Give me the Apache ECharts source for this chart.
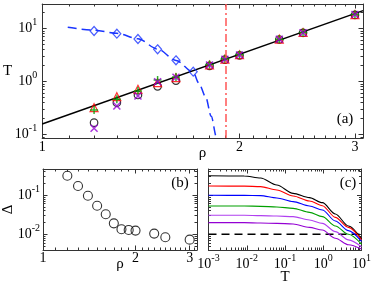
<!DOCTYPE html>
<html><head><meta charset="utf-8">
<script src="https://cdn.jsdelivr.net/npm/echarts@6/dist/echarts.min.js"></script>
<style>html,body{margin:0;padding:0;background:#fff}#c{width:374px;height:286px}</style>
</head><body><div id="c"></div>
<script>
// ---------- Panel (a) ----------
const rhoA      = [1.2, 1.3, 1.4, 1.5, 1.6, 1.8, 1.9, 2.0, 2.3, 2.5, 3.0];
const tCircle   = [0.167, 0.398, 0.556, 0.811, 1.04, 1.97, 2.58, 3.10, 6.20, 8.30, 18.0];
const tTriangle = [0.321, 0.517, 0.713, 0.949, 1.18, 2.05, 2.65, 3.20, 6.30, 8.40, 18.2];
const tPlus     = [0.290, 0.461, 0.662, 1.07, 1.22, 2.10, 2.68, 3.20, 6.30, 8.40, 18.4];
const tCross    = [0.131, 0.345, 0.533, 0.99, 1.20, 2.05, 2.62, 3.16, 6.25, 8.33, 18.3];
const rhoDiamond = [1.2, 1.3, 1.4, 1.5, 1.6, 1.7];
const tDiamond   = [8.97, 7.98, 6.34, 4.05, 2.51, 1.53];
const rhoFit = [1.094, 1.2, 1.3, 1.4, 1.5, 1.6, 1.7, 1.734, 1.775, 1.811, 1.844, 1.86];
const tFit   = [10.5, 9.3, 8.1, 6.4, 4.1, 2.5, 1.5, 0.93, 0.52, 0.22, 0.09, 0.065];
const rhoLine = [1.0, 3.087];
const tLine   = [0.158, 21.7];
const rhoMark = 1.9;
const aXTicks = [1, 2, 3];
const aYTicks = [0.1, 1, 10];

// ---------- Panel (b) ----------
const rhoB   = [1.2, 1.3, 1.4, 1.5, 1.6, 1.7, 1.8, 1.9, 2.0, 2.3, 2.5, 3.0];
const deltaB = [0.31, 0.169, 0.096, 0.0534, 0.0323, 0.019, 0.0134, 0.0129, 0.0124, 0.0104, 0.0084, 0.0073];
const bXTicks = [1, 2, 3];
const bYTicks = [0.01, 0.1];

// ---------- Panel (c) ----------
const tempC    = [0.001, 0.0086, 0.023, 0.061, 0.163, 0.435, 0.95, 2.07, 4.55, 10];
const dBlack   = [0.310, 0.304, 0.27, 0.179, 0.110, 0.0857, 0.0638, 0.0329, 0.0163, 0.0076];
const dRed     = [0.169, 0.168, 0.163, 0.134, 0.0944, 0.0704, 0.0535, 0.0270, 0.0150, 0.0072];
const dBlue    = [0.0982, 0.098, 0.0962, 0.0839, 0.0677, 0.0525, 0.0415, 0.0218, 0.0124, 0.0066];
const dGreen   = [0.0525, 0.0525, 0.0515, 0.0495, 0.0458, 0.0362, 0.0281, 0.0163, 0.0100, 0.0056];
const dViolet1 = [0.0304, 0.0304, 0.0298, 0.0292, 0.0281, 0.0231, 0.0190, 0.0117, 0.0072, 0.0048];
const dViolet2 = [0.0198, 0.0198, 0.0193, 0.0190, 0.0183, 0.0150, 0.0129, 0.0079, 0.0054, 0.0042];
const thresholdC = 0.01;
const cXTicks = [0.001, 0.01, 0.1, 1, 10];
const cYTicks = [0.01, 0.1];

// ---------- helpers ----------
const L = Math.log10;
const F = 'Liberation Serif';
const AX = '#333';
function logMinors(lo, hi) {
  const out = [];
  for (let e = -4; e <= 2; e++) for (let m = 2; m <= 9; m++) {
    const v = L(m) + e;
    if (v > lo && v < hi) out.push(v);
  }
  return out;
}
function linMinors(lo, hi) {
  const out = [];
  for (let k = 11; k <= 40; k++) {
    if (k % 10 === 0) continue;
    const v = L(k / 10);
    if (v > lo && v < hi) out.push(v);
  }
  return out;
}
const rich = {
  b: { fontFamily: F, fontSize: 14, lineHeight: 22, color: '#000' },
  s: { fontFamily: F, fontSize: 10, lineHeight: 10, verticalAlign: 'top', color: '#000' }
};
const powFmt = v => '{b|10}{s|' + Math.round(v) + '}';
const intFmt = v => String(Math.round(Math.pow(10, v)));

function axes(dim, grid, min, max, major, minor, label, name) {
  const pos = dim === 'x' ? ['bottom', 'top'] : ['left', 'right'];
  const base = { type: 'value', gridIndex: grid, min: min, max: max, splitLine: { show: false }, silent: true };
  const line = { show: true, onZero: false, lineStyle: { color: AX, width: 1 } };
  const noline = { show: false, onZero: false };
  const tick = (vals, len) => ({ show: true, inside: true, length: len, customValues: vals, lineStyle: { color: AX, width: 1 } });
  const main = Object.assign({}, base, {
    position: pos[0], axisLine: line, axisTick: tick(major, 4.5),
    axisLabel: label ? Object.assign({ show: true, customValues: major }, label) : { show: false }
  }, name || {});
  return [
    main,
    Object.assign({}, base, { position: pos[0], axisLine: noline, axisTick: tick(minor, 2.5), axisLabel: { show: false } }),
    Object.assign({}, base, { position: pos[1], axisLine: line, axisTick: tick(major, 4.5), axisLabel: { show: false } }),
    Object.assign({}, base, { position: pos[1], axisLine: noline, axisTick: tick(minor, 2.5), axisLabel: { show: false } })
  ];
}

// axis ranges (log10 space)
const aX = [0, 0.4894], aY = [-1.066, 1.462];
const bX = [0, 0.501],  bY = [-2.4, -0.338];
const cX = [-3, 1],     cY = [-2.4, -0.338];

const nameStyle = { fontFamily: F, fontSize: 15, color: '#000' };
const nm = (n, gap, rot) => ({ name: n, nameLocation: 'middle', nameGap: gap, nameRotate: rot,
  nameMoveOverlap: false, nameTextStyle: nameStyle });
const xAxes = [].concat(
  axes('x', 0, aX[0], aX[1], aXTicks.map(L), linMinors(aX[0], aX[1]),
    { formatter: intFmt, fontFamily: F, fontSize: 14, color: '#000', margin: 2 }, nm('ρ', 8)),
  axes('x', 1, bX[0], bX[1], bXTicks.map(L), linMinors(bX[0], bX[1]),
    { formatter: intFmt, fontFamily: F, fontSize: 14, color: '#000', margin: 1.5 }, nm('ρ', 7)),
  axes('x', 2, cX[0], cX[1], cXTicks.map(L), logMinors(cX[0], cX[1]),
    { formatter: powFmt, rich: rich, margin: 3 }, nm('T', 20))
);
const yAxes = [].concat(
  axes('y', 0, aY[0], aY[1], aYTicks.map(L), logMinors(aY[0], aY[1]),
    { formatter: powFmt, rich: rich, margin: 5 }, nm('T', 30, 0)),
  axes('y', 1, bY[0], bY[1], bYTicks.map(L), logMinors(bY[0], bY[1]),
    { formatter: powFmt, rich: rich, margin: 3 }, nm('Δ', 27, 90)),
  axes('y', 2, cY[0], cY[1], cYTicks.map(L), logMinors(cY[0], cY[1]), null, null)
);

const pts = (xs, ys) => xs.map((x, i) => [L(x), L(ys[i])]);
const hollow = (c, w) => ({ color: 'rgba(0,0,0,0)', borderColor: c, borderWidth: w });
const PLUS = 'path://M5,0L5,10M0,5L10,5';
const CROSS = 'path://M0,0L10,10M10,0L0,10';

const series = [
  // (a)
  { type: 'line', xAxisIndex: 0, yAxisIndex: 0, data: pts(rhoFit, tFit), smooth: 0.3, smoothMonotone: 'x',
    showSymbol: false, symbol: 'none', lineStyle: { color: '#1a35ff', width: 1.5, type: [9, 5] }, z: 2 },
  { type: 'line', xAxisIndex: 0, yAxisIndex: 0, data: pts(rhoLine, tLine), symbol: 'none',
    lineStyle: { color: '#000', width: 1.5 }, z: 3,
    markLine: { silent: true, symbol: 'none', label: { show: false },
      lineStyle: { color: '#ff5555', width: 1.5, type: [8, 3, 2, 3] },
      data: [{ xAxis: L(rhoMark) }] } },
  { type: 'scatter', xAxisIndex: 0, yAxisIndex: 0, data: pts(rhoDiamond, tDiamond), symbol: 'diamond',
    symbolSize: [8, 9], itemStyle: hollow('#1a35ff', 1.2), z: 4 },
  { type: 'scatter', xAxisIndex: 0, yAxisIndex: 0, data: pts(rhoA, tCircle), symbol: 'circle',
    symbolSize: 7.5, itemStyle: hollow('#000', 1.2), z: 4 },
  { type: 'scatter', xAxisIndex: 0, yAxisIndex: 0, data: pts(rhoA, tTriangle), symbol: 'triangle',
    symbolSize: 8, itemStyle: hollow('#ff0000', 1.2), z: 4 },
  { type: 'scatter', xAxisIndex: 0, yAxisIndex: 0, data: pts(rhoA, tPlus), symbol: PLUS,
    symbolSize: 8, itemStyle: hollow('#00a000', 1.5), z: 4 },
  { type: 'scatter', xAxisIndex: 0, yAxisIndex: 0, data: pts(rhoA, tCross), symbol: CROSS,
    symbolSize: 7, itemStyle: hollow('#9400d3', 1.5), z: 4 },
  // (b)
  { type: 'scatter', xAxisIndex: 4, yAxisIndex: 4, data: pts(rhoB, deltaB), symbol: 'circle',
    symbolSize: 9, itemStyle: hollow('#000', 1.1) },
  // (c)
  { type: 'line', xAxisIndex: 8, yAxisIndex: 8, data: pts([tempC[0], tempC[tempC.length - 1]], [thresholdC, thresholdC]),
    symbol: 'none', lineStyle: { color: '#000', width: 1.5, type: [8, 5] } }
].concat([[dBlack, '#000'], [dRed, '#ff0000'], [dBlue, '#0000ff'], [dGreen, '#00a000'],
          [dViolet1, '#b040f0'], [dViolet2, '#9400d3']].map(([d, c]) => ({
  type: 'line', xAxisIndex: 8, yAxisIndex: 8, data: pts(tempC, d), smooth: 0.3, smoothMonotone: 'x',
  symbol: 'none', lineStyle: { color: c, width: 1.1 }
})));

const txt = (t, x, y) => ({ type: 'text', style: { text: t, x: x, y: y, fontFamily: F, fontSize: 15,
  align: 'center', verticalAlign: 'middle', fill: '#000' } });

const chart = echarts.init(document.getElementById('c'), null, { renderer: 'canvas' });
chart.setOption({
  animation: false,
  backgroundColor: '#fff',
  grid: [
    { left: 41, top: 4, width: 322, height: 134 },
    { left: 41, top: 169, width: 156, height: 81 },
    { left: 208.5, top: 169, width: 156, height: 81 }
  ],
  xAxis: xAxes,
  yAxis: yAxes,
  series: series,
  graphic: [txt('(a)', 345, 119), txt('(b)', 180, 183), txt('(c)', 348, 183)]
});
</script></body></html>
